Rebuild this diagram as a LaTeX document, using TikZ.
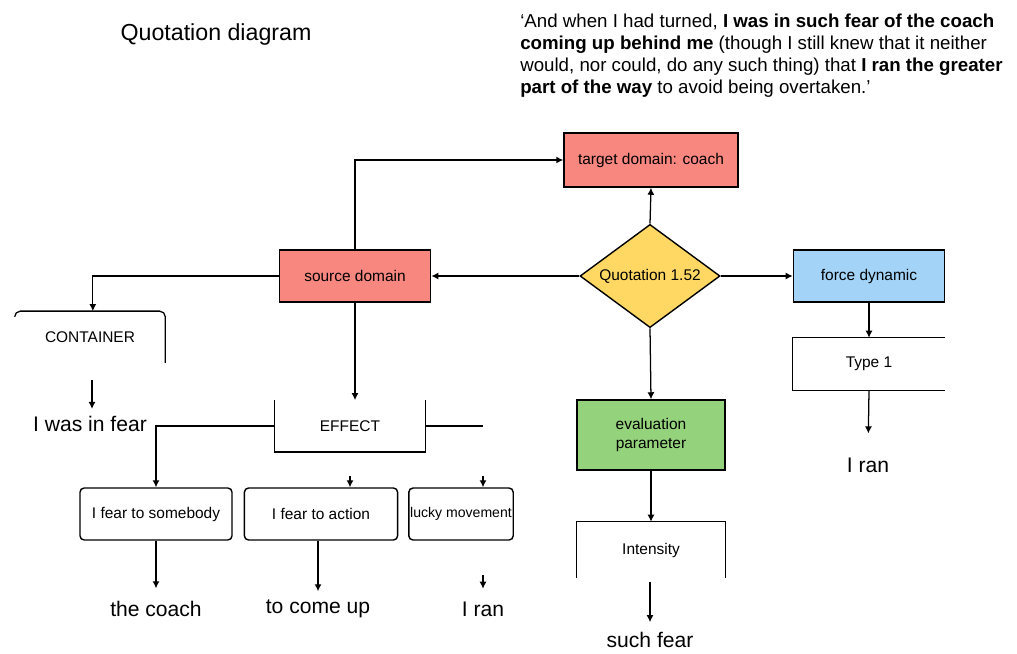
\documentclass[tikz,border=0pt]{standalone}
\usepackage{fontspec}
\setmainfont{Liberation Sans}
\usetikzlibrary{shapes.geometric,arrows.meta}
\definecolor{srcpink}{HTML}{F8877F}
\definecolor{quoyellow}{HTML}{FFD864}
\definecolor{forceblue}{HTML}{A3D3F6}
\definecolor{evalgreen}{HTML}{95D27C}
\tikzset{
  arr/.style={-{Latex[length=5pt,width=5pt]}, line width=0.9pt},
  ln/.style={line width=0.9pt},
  domainbox/.style={draw, line width=1pt, fill=srcpink, minimum width=3.78cm, minimum height=1.3cm, font=\fontsize{11}{13}\selectfont},
  chainbox/.style={draw, line width=1pt, rounded corners=3pt, minimum height=1.3cm, font=\fontsize{11}{13}\selectfont},
  bracketbox/.style={minimum width=3.75cm, minimum height=1.28cm, font=\fontsize{11}{13}\selectfont},
  result/.style={font=\fontsize{15}{17}\selectfont, inner sep=2pt}
}
\begin{document}
\begin{tikzpicture}[x=0.025cm, y=-0.025cm]
  \useasboundingbox (0,0) rectangle (1017,653);
  % title and quotation
  \node[font=\fontsize{16.5}{19}\selectfont] (title) at (216,34) {Quotation diagram};
  \node[anchor=north west, align=left, inner sep=0pt, font=\fontsize{13.3}{15.6}\selectfont] (quote) at (520,14)
    {`And when I had turned, \textbf{I was in such fear of the coach}\\
     \textbf{coming up behind me} (though I still knew that it neither\\
     would, nor could, do any such thing) that \textbf{I ran the greater}\\
     \textbf{part of the way} to avoid being overtaken.'};
  % main nodes
  \node[domainbox, minimum width=4.35cm, minimum height=1.35cm] (tgt) at (651,160) {target domain: coach};
  \node[draw, line width=1pt, fill=quoyellow, diamond, aspect=1.36, inner sep=0pt, minimum width=3.5cm, minimum height=2.58cm, font=\fontsize{11}{13}\selectfont] (quo) at (650,276) {Quotation 1.52};
  \node[domainbox] (src) at (355,276) {source domain};
  \node[domainbox, fill=forceblue] (force) at (869,276) {force dynamic};
  \node[domainbox, fill=evalgreen, minimum width=3.7cm, minimum height=1.75cm, align=center] (eval) at (651,435) {evaluation\\parameter};
  \draw[arr] (quo.north) -- (tgt.south);
  \draw[arr] (quo.west) -- (src.east);
  \draw[arr] (quo.east) -- (force.west);
  \draw[arr] (quo.south) -- (eval.north);
  \draw[arr] (src.north) |- (tgt.west);
  % container branch
  \node[bracketbox] (cont) at (90,337) {CONTAINER};
  \draw[ln, rounded corners=4pt] ([yshift=-4pt]cont.north west) -- (cont.north west) -- (cont.north east) -- (cont.south east);
  \draw[arr] (src.west) -| ([xshift=2pt]cont.north);
  \coordinate (c1) at (92,380);
  \node[result] (fear) at (90,424) {I was in fear};
  \draw[arr, shorten >=3pt] (c1) -- (fear.north -| c1);
  % effect branch
  \node[bracketbox] (effect) at (350,426) {EFFECT};
  \draw[ln] (effect.north west) -- (effect.south west) -- (effect.south east) -- (effect.north east);
  \draw[arr] (src.south) -- (src.south |- effect.north);
  \node[chainbox, minimum width=3.8cm] (b1) at (156,514) {I fear to somebody};
  \node[chainbox, minimum width=3.83cm] (b2) at (321,514) {I fear to action};
  \node[chainbox, minimum width=2.55cm, inner xsep=1pt, font=\fontsize{10}{12}\selectfont] (b3) at (461,514) {lucky movement};
  \coordinate (e1) at (483,427);
  \draw[arr] (effect.west) -| (b1.north);
  \draw[ln] (effect.east) -- (effect.east -| e1);
  \coordinate (c2) at (350,476);
  \coordinate (c3) at (483,476);
  \draw[arr] (c2) -- (c2 |- b2.north);
  \draw[arr] (c3) -- (c3 |- b3.north);
  \node[result] (coach) at (156,609) {the coach};
  \node[result] (comeup) at (318,609) {to come up};
  \node[result] (ran1) at (483,609) {I ran};
  \draw[arr, shorten >=7pt] (b1.south) -- (coach.north);
  \draw[arr, shorten >=4pt] (b2.south -| comeup) -- (comeup.north);
  \coordinate (c4) at (483,575);
  \draw[arr, shorten >=7pt] (c4) -- (ran1.north);
  % evaluation branch
  \node[bracketbox, minimum width=3.7cm, minimum height=1.4cm] (inten) at (651,550) {Intensity};
  \draw[ln] (inten.south west) -- (inten.north west) -- (inten.north east) -- (inten.south east);
  \draw[arr] (eval.south) -- (inten.north);
  \node[result] (such) at (650,640) {such fear};
  \coordinate (c5) at (650,582);
  \draw[arr, shorten >=5pt] (c5) -- (such.north);
  % force branch
  \node[bracketbox, minimum width=3.8cm, minimum height=1.3cm] (type) at (869,364) {Type 1};
  \draw[ln] (type.north east) -- (type.north west) -- (type.south west) -- (type.south east);
  \draw[arr] (force.south) -- (type.north);
  \node[result] (ran2) at (868,465) {I ran};
  \draw[arr, shorten >=15pt] (type.south) -- (ran2.north);
\end{tikzpicture}
\end{document}
